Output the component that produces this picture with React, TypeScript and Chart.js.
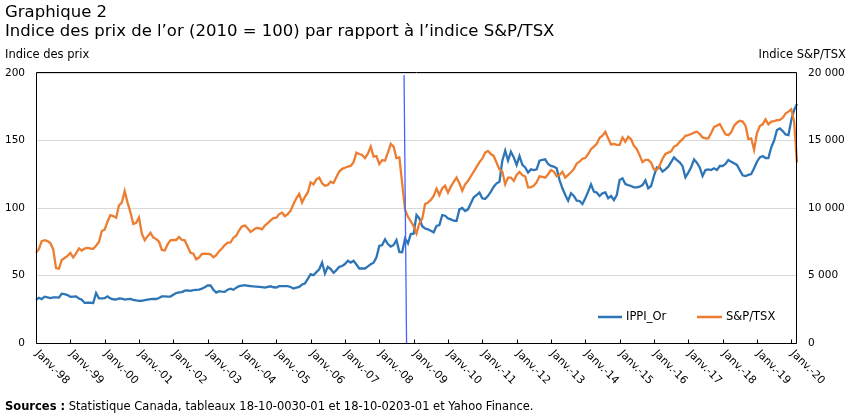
import React, { useEffect, useRef } from 'react';
import { Chart, registerables } from 'chart.js';

Chart.register(...registerables);

const tickLabels = [
  'Janv.-98', 'Janv.-99', 'Janv.-00', 'Janv.-01', 'Janv.-02', 'Janv.-03', 'Janv.-04', 'Janv.-05',
  'Janv.-06', 'Janv.-07', 'Janv.-08', 'Janv.-09', 'Janv.-10', 'Janv.-11', 'Janv.-12', 'Janv.-13',
  'Janv.-14', 'Janv.-15', 'Janv.-16', 'Janv.-17', 'Janv.-18', 'Janv.-19', 'Janv.-20',
];
const monthNames = ['janv.', 'févr.', 'mars', 'avr.', 'mai', 'juin', 'juil.', 'août', 'sept.', 'oct.', 'nov.', 'déc.'];
const years = [1998, 1999, 2000, 2001, 2002, 2003, 2004, 2005, 2006, 2007, 2008, 2009, 2010, 2011, 2012, 2013, 2014, 2015, 2016, 2017, 2018, 2019, 2020];
const lastYearMonths = 3;

// IPPI_Or (2010 = 100), monthly, Jan 1998 - Mar 2020
const ippiOr = [
  31.9, 33.5, 32.5, 34.3, 33.8, 33.3, 33.8, 33.8, 33.6, 36.5, 36.2, 35.5,
  34.2, 34.4, 34.5, 33.0, 32.0, 29.7, 29.8, 29.8, 29.6, 37.0, 33.0, 33.0,
  33.2, 34.6, 33.0, 32.4, 32.2, 33.0, 32.8, 32.2, 32.5, 32.6, 32.0, 31.5,
  31.2, 31.3, 31.8, 32.2, 32.5, 32.6, 32.6, 33.3, 34.5, 34.6, 34.3, 34.4,
  35.8, 37.0, 37.5, 37.7, 38.8, 39.0, 38.6, 39.2, 39.4, 39.6, 40.3, 41.3,
  42.6, 42.7, 39.5, 37.3, 38.4, 38.1, 37.9, 39.5, 40.2, 39.4, 41.0, 42.1,
  42.5, 42.8, 42.4, 42.2, 41.9, 41.8, 41.6, 41.4, 41.0, 41.6, 42.0, 41.3,
  41.1, 42.1, 42.1, 42.1, 42.1, 41.5, 40.4, 41.0, 41.5, 43.3, 44.1, 47.5,
  51.0, 50.2, 52.5, 54.6, 59.6, 51.5, 56.4, 54.7, 52.0, 54.0, 56.4, 57.0,
  58.5, 60.9, 59.6, 60.9, 58.1, 55.2, 55.2, 55.2, 56.8, 58.3, 59.5, 63.5,
  71.9, 72.6, 76.8, 73.3, 71.4, 72.6, 76.3, 67.5, 67.2, 77.3, 73.8, 80.7,
  81.0, 94.8, 92.3, 86.5, 84.8, 84.2, 83.2, 82.0, 86.7, 87.4, 94.8, 94.3,
  92.3, 91.6, 90.6, 90.4, 99.0, 100.0, 97.8, 99.0, 103.5, 107.9, 109.6, 111.4,
  107.2, 106.7, 109.0, 112.1, 115.8, 118.3, 119.5, 135.1, 142.5, 135.1, 141.7, 137.5,
  131.9, 138.5, 131.9, 130.1, 126.2, 128.6, 128.1, 128.6, 135.1, 135.6, 136.0, 132.6,
  131.2, 130.6, 129.4, 120.7, 114.6, 109.6, 105.4, 110.9, 108.9, 105.4, 105.2, 103.0,
  107.2, 112.1, 117.5, 112.1, 111.4, 108.9, 110.9, 111.6, 107.2, 108.9, 105.9, 109.6,
  120.7, 122.0, 117.8, 117.0, 116.3, 115.3, 115.3, 115.8, 117.0, 120.5, 114.6, 116.3,
  123.7, 130.1, 130.1, 126.9, 128.6, 130.6, 134.0, 137.5, 135.5, 133.8, 131.0, 122.7,
  126.2, 130.1, 136.0, 133.6, 130.1, 123.7, 128.1, 128.6, 128.1, 129.4, 128.1, 131.1,
  131.1, 132.6, 135.6, 134.3, 133.1, 131.9, 128.1, 124.2, 123.7, 124.5, 125.2, 129.4,
  134.3, 137.5, 138.5, 137.0, 137.0, 145.0, 150.0, 157.8, 159.0, 157.0, 154.5, 154.0,
  165.0, 172.6, 177.0,
];

// S&P/TSX composite index, monthly, Jan 1998 - Mar 2020
const spTsx = [
  6690, 6950, 7550, 7620, 7550, 7400, 6950, 5550, 5500, 6150, 6300, 6450,
  6670, 6330, 6630, 7000, 6850, 7000, 7040, 7000, 6980, 7200, 7480, 8300,
  8400, 9000, 9470, 9400, 9280, 10180, 10400, 11250, 10400, 9700, 8820, 8900,
  9300, 8100, 7620, 7900, 8160, 7800, 7700, 7500, 6890, 6850, 7300, 7600,
  7630, 7630, 7850, 7630, 7600, 7150, 6680, 6620, 6200, 6330, 6600, 6620,
  6600, 6570, 6350, 6500, 6800, 7000, 7250, 7440, 7460, 7800, 7950, 8350,
  8650, 8700, 8500, 8230, 8380, 8520, 8500, 8420, 8700, 8870, 9080, 9250,
  9280, 9550, 9650, 9400, 9550, 9800, 10300, 10720, 11040, 10400, 10820, 11150,
  11900, 11750, 12120, 12250, 11830, 11650, 11700, 11950, 11850, 12300, 12700, 12900,
  12980, 13070, 13120, 13400, 14100, 14000, 13930, 13700, 14030, 14550, 13800, 13850,
  13250, 13550, 13500, 14100, 14750, 14540, 13700, 13750, 11830, 9850, 9360, 9020,
  8650, 8120, 8850, 9200, 10300, 10400, 10600, 10890, 11430, 10960, 11460, 11650,
  11140, 11580, 11930, 12250, 11830, 11280, 11750, 12000, 12350, 12700, 13050, 13400,
  13650, 14100, 14220, 14000, 13850, 13350, 12860, 12690, 11750, 12250, 12250, 12000,
  12450, 12670, 12440, 12330, 11530, 11530, 11650, 11900, 12350, 12300, 12250, 12500,
  12810, 12700, 12350, 12450, 12690, 12250, 12450, 12650, 12880, 13300, 13430, 13650,
  13700, 14000, 14350, 14550, 14750, 15200, 15350, 15650, 15160, 14700, 14740, 14670,
  14670, 15230, 14910, 15280, 15090, 14600, 14370, 13900, 13400, 13560, 13560, 13360,
  12860, 12810, 13150, 13650, 14000, 14100, 14200, 14550, 14650, 14900, 15100, 15350,
  15400, 15480, 15580, 15650, 15480, 15230, 15160, 15160, 15550, 16000, 16100, 16220,
  15830, 15460, 15400, 15600, 16100, 16320, 16460, 16400, 16100, 15100, 15160, 14300,
  15550, 16070, 16200, 16570, 16200, 16400, 16440, 16500, 16520, 16680, 17000, 17140,
  17310, 16400, 13360,
];

const markerIndex = 129; // octobre 2008

const categories: string[] = [];
years.forEach((y, yi) => {
  const n = yi === years.length - 1 ? lastYearMonths : 12;
  for (let m = 0; m < n; m++) categories.push(monthNames[m] + ' ' + y);
});

const BLUE = '#2E75B6';
const ORANGE = '#ED7D31';
const FONT = '"DejaVu Sans", Verdana, sans-serif';

const fmtThousands = (v: number) => String(v).replace(/\B(?=(\d{3})+(?!\d))/g, ' ');

const overlayPlugin = {
  id: 'overlay',
  afterDatasetsDraw(chart: any) {
    const { ctx, chartArea, scales } = chart;
    const { top, bottom } = chartArea;
    const x = scales.x;
    ctx.save();
    const mx = x.getPixelForValue(markerIndex);
    ctx.strokeStyle = '#4862ff';
    ctx.lineWidth = 1.3;
    ctx.beginPath();
    ctx.moveTo(mx - 1, top + 2);
    ctx.lineTo(mx + 1.5, bottom);
    ctx.stroke();
    ctx.restore();
  },
  afterDraw(chart: any) {
    const { ctx, chartArea, scales } = chart;
    const { left, right, top, bottom } = chartArea;
    const x = scales.x;
    ctx.save();
    ctx.strokeStyle = '#000';
    ctx.lineWidth = 1;
    ctx.beginPath();
    ctx.rect(Math.round(left) + 0.5, Math.round(top) - 0.5, Math.round(right) - Math.round(left) - 1, Math.round(bottom) - Math.round(top) + 1);
    ctx.stroke();
    ctx.fillStyle = '#000';
    ctx.font = '10.8px ' + FONT;
    ctx.textAlign = 'left';
    ctx.textBaseline = 'middle';
    tickLabels.forEach((lab, k) => {
      const px = x.getPixelForValue(k * 12);
      const rx = Math.round(px) + 0.5;
      ctx.beginPath();
      ctx.moveTo(rx, bottom + 0.5);
      ctx.lineTo(rx, bottom - 3.5);
      ctx.stroke();
      ctx.save();
      ctx.translate(px + 1, bottom + 9);
      ctx.rotate(Math.PI / 4);
      ctx.fillText(lab, 0, 0);
      ctx.restore();
    });
    const ly = bottom - 26;
    ctx.font = '11.5px ' + FONT;
    ctx.lineWidth = 2.5;
    ctx.strokeStyle = BLUE;
    ctx.beginPath();
    ctx.moveTo(right - 199, ly);
    ctx.lineTo(right - 175, ly);
    ctx.stroke();
    ctx.fillText('IPPI_Or', right - 171, ly);
    ctx.strokeStyle = ORANGE;
    ctx.beginPath();
    ctx.moveTo(right - 100, ly);
    ctx.lineTo(right - 75, ly);
    ctx.stroke();
    ctx.fillText('S&P/TSX', right - 71, ly);
    ctx.restore();
  },
};

export default function App() {
  const ref = useRef<HTMLCanvasElement | null>(null);

  useEffect(() => {
    document.body.style.margin = '0';
    if (!ref.current) return;
    const chart = new Chart(ref.current, {
      type: 'line',
      data: {
        labels: categories,
        datasets: [
          {
            label: 'IPPI_Or',
            data: ippiOr,
            borderColor: BLUE,
            backgroundColor: BLUE,
            borderWidth: 2.3,
            pointRadius: 0,
            yAxisID: 'y',
            order: 2,
          },
          {
            label: 'S&P/TSX',
            data: spTsx,
            borderColor: ORANGE,
            backgroundColor: ORANGE,
            borderWidth: 2.3,
            pointRadius: 0,
            yAxisID: 'y1',
            order: 1,
          },
        ],
      },
      options: {
        animation: false,
        responsive: false,
        maintainAspectRatio: false,
        layout: { padding: { top: 73, left: 0, right: 0, bottom: 0 } },
        plugins: { legend: { display: false }, tooltip: { enabled: false }, title: { display: false } },
        scales: {
          x: {
            type: 'category',
            offset: false,
            grid: { display: false, drawTicks: false },
            border: { display: false },
            ticks: { display: false },
            afterFit: (s: any) => { s.height = 74; },
          },
          y: {
            position: 'left',
            min: 0,
            max: 200,
            ticks: { stepSize: 50, color: '#000', padding: 11, font: { family: FONT, size: 10.5 } },
            grid: { color: '#d9d9d9', lineWidth: 1, drawTicks: false },
            border: { display: false },
            afterFit: (s: any) => { s.width = 36; },
          },
          y1: {
            position: 'right',
            min: 0,
            max: 20000,
            ticks: { stepSize: 5000, color: '#000', padding: 11, font: { family: FONT, size: 10.5 }, callback: (v: any) => fmtThousands(Number(v)) },
            grid: { display: false, drawTicks: false },
            border: { display: false },
            afterFit: (s: any) => { s.width = 54; },
          },
        },
      },
      plugins: [overlayPlugin],
    });
    return () => chart.destroy();
  }, []);

  const base: React.CSSProperties = { position: 'absolute', fontFamily: FONT, color: '#000', whiteSpace: 'nowrap' };

  return (
    <div style={{ position: 'relative', width: 851, height: 417, background: '#fff', overflow: 'hidden' }}>
      <canvas ref={ref} width={851} height={417} style={{ position: 'absolute', left: 0, top: 0, width: 851, height: 417 }} />
      <div style={{ ...base, left: 5, top: 2, fontSize: 16.5, lineHeight: '19px' }}>Graphique 2</div>
      <div style={{ ...base, left: 5, top: 21, fontSize: 16.5, lineHeight: '19px' }}>
        Indice des prix de l’or (2010 = 100) par rapport à l’indice S&amp;P/TSX
      </div>
      <div style={{ ...base, left: 5, top: 47, fontSize: 11.5, lineHeight: '14px' }}>Indice des prix</div>
      <div style={{ ...base, right: 5, top: 47, fontSize: 11.5, lineHeight: '14px' }}>Indice S&amp;P/TSX</div>
      <div style={{ ...base, left: 5, top: 399, fontSize: 11.5, lineHeight: '14px' }}>
        <b>Sources :</b> Statistique Canada, tableaux 18-10-0030-01 et 18-10-0203-01 et Yahoo Finance.
      </div>
    </div>
  );
}
